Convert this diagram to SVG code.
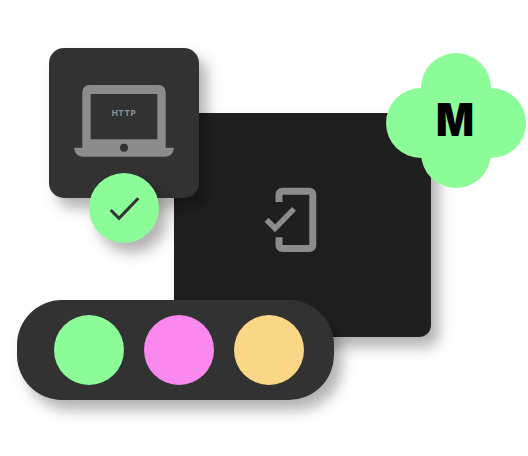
<svg xmlns="http://www.w3.org/2000/svg" width="528" height="456" viewBox="0 0 528 456">
<defs>
<style>
.ic{fill:none;stroke:#8c8c8c;stroke-width:7}
.g{fill:#8cfc98}
.sh{filter:url(#shadow)}
</style>
<filter id="shadow" x="-30%" y="-30%" width="160%" height="170%" color-interpolation-filters="sRGB">
<feDropShadow dx="8" dy="10" stdDeviation="7" flood-color="#000" flood-opacity="0.3"/>
</filter>
</defs>
<rect width="528" height="456" fill="#fff"/>
<g id="connectors"/>
<g id="phone-card">
<rect class="sh" x="174" y="113" width="257" height="224" rx="12" fill="#1f1f1f"/>
<path class="ic" d="M279 202V195.200Q279 191.200 283 191.200H308.800Q312.800 191.200 312.800 195.200V244.500Q312.800 248.500 308.800 248.500H283Q279 248.500 279 244.500V237.300"/>
<path class="ic" style="stroke-width:5.500" d="M266.500 219.800L275 228.300L294 208.800"/>
</g>
<g id="laptop-card">
<rect class="sh" x="49" y="48" width="150" height="150" rx="15" fill="#323232"/>
<path d="M90 85H158Q165.700 85 165.700 92.700V147.700H174Q173 156.700 164 156.700H84Q75 156.700 74 147.700H82.300V92.700Q82.300 85 90 85Z" fill="#8c8c8c"/>
<rect x="90.700" y="94" width="66.600" height="45.300" fill="#323232"/>
<circle cx="124" cy="147.700" r="4" fill="#323232"/>
<text x="124" y="115.500" text-anchor="middle" font-family="Inter, 'Liberation Sans', sans-serif" font-size="8" font-weight="800" letter-spacing="0.6" fill="#8c8c8c">HTTP</text>
</g>
<g id="check-badge">
<circle class="sh g" cx="124" cy="208" r="35"/>
<path d="M110.700 210L119 218.300L138.300 198.300" fill="none" stroke="#323232" stroke-width="3"/>
</g>
<g id="color-pill">
<rect class="sh" x="17" y="300" width="317" height="100" rx="45" fill="#323232"/>
<circle class="g" cx="89" cy="350" r="35"/>
<circle cx="179" cy="350" r="35" fill="#fb88ef"/>
<circle cx="269" cy="350" r="35" fill="#fad786"/>
</g>
<g id="m-badge">
<circle class="g" cx="456" cy="88" r="35"/>
<circle class="g" cx="421" cy="123" r="35"/>
<circle class="g" cx="491" cy="123" r="35"/>
<circle class="g" cx="456" cy="153" r="35"/>
<rect class="g" x="421" y="88" width="70" height="65"/>
<text x="436" y="136" font-family="Inter, sans-serif" font-size="46" font-weight="900" textLength="38" lengthAdjust="spacingAndGlyphs" fill="#000">M</text>
</g>
</svg>
